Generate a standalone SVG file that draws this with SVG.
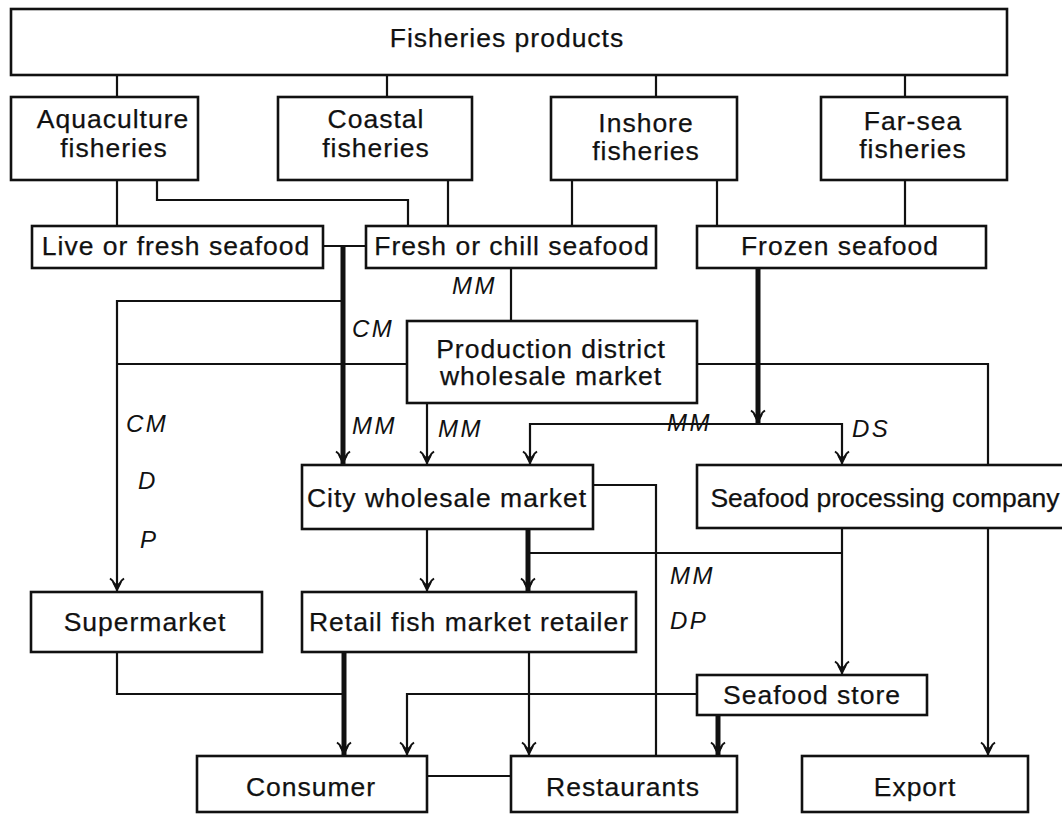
<svg xmlns="http://www.w3.org/2000/svg" width="1062" height="816" viewBox="0 0 1062 816">
<style>
  .box { fill: #fff; stroke: #111; stroke-width: 2.6; }
  .t { font-family: "Liberation Sans", Arial, sans-serif; font-size: 26.5px; letter-spacing: 1px; fill: #111; text-anchor: middle; stroke: #111; stroke-width: 0.25px; }
  .lab { font-family: "Liberation Sans", Arial, sans-serif; font-size: 24px; font-style: italic; letter-spacing: 2.5px; fill: #111; }
  .ln { fill: none; stroke: #111; stroke-width: 2.2; }
  .thick { fill: none; stroke: #111; stroke-width: 5; }
  .arr { marker-end: url(#arr); }
</style>
<defs>
  <marker id="arr" viewBox="-15 -9 17 18" refX="0" refY="0" markerWidth="17" markerHeight="18" markerUnits="userSpaceOnUse" orient="auto">
    <path d="M0,0 L-10,-5 L-8,0 L-10,5 Z" fill="#111"/>
    <path d="M-4,0 L-9,-3 Q-11.5,-4 -13.5,-7 M-4,0 L-9,3 Q-11.5,4 -13.5,7" fill="none" stroke="#111" stroke-width="2"/>
  </marker>
</defs>
<rect width="1062" height="816" fill="#fff"/>

<g id="connectors">
  <path class="ln" d="M117,75 V97 M387,75 V97 M656,75 V97 M905,75 V97"/>
  <path class="ln" d="M117,180 V226"/>
  <path class="ln" d="M157,180 V200 H408 V226"/>
  <path class="ln" d="M448,180 V226"/>
  <path class="ln" d="M572,180 V226"/>
  <path class="ln" d="M717,180 V226"/>
  <path class="ln" d="M905,180 V226"/>
  <path class="ln" d="M323,246 H366"/>
  <path class="thick arr" d="M343,246 V465"/>
  <path class="ln arr" d="M343,301 H117 V592"/>
  <path class="ln" d="M407,364 H117"/>
  <path class="ln" d="M511,268 V321"/>
  <path class="ln arr" d="M427,403 V465"/>
  <path class="ln" d="M697,364 H988 V465"/>
  <path class="thick arr" d="M758,268 V424"/>
  <path class="ln arr" d="M758,424 H530 V465"/>
  <path class="ln arr" d="M758,424 H842 V465"/>
  <path class="ln" d="M593,485 H656 V756"/>
  <path class="ln arr" d="M427,529 V592"/>
  <path class="thick arr" d="M528,529 V592"/>
  <path class="ln" d="M842,553 H528"/>
  <path class="ln arr" d="M842,528 V675"/>
  <path class="ln arr" d="M988,528 V756"/>
  <path class="ln" d="M117,652 V694 H344"/>
  <path class="thick arr" d="M344,652 V756"/>
  <path class="ln arr" d="M529,652 V756"/>
  <path class="ln arr" d="M697,694 H407 V756"/>
  <path class="thick arr" d="M718,715 V756"/>
  <path class="ln" d="M427,776 H511"/>
</g>

<g id="labels">
  <text class="lab" x="452" y="294">MM</text>
  <text class="lab" x="352" y="337">CM</text>
  <text class="lab" x="126" y="432">CM</text>
  <text class="lab" x="138" y="489">D</text>
  <text class="lab" x="140" y="548">P</text>
  <text class="lab" x="352" y="434">MM</text>
  <text class="lab" x="438" y="437">MM</text>
  <text class="lab" x="667" y="431">MM</text>
  <text class="lab" x="852" y="437">DS</text>
  <text class="lab" x="670" y="584">MM</text>
  <text class="lab" x="670" y="629">DP</text>
</g>

<g id="fisheries-products"><rect class="box" x="11" y="9" width="996" height="66"/><text class="t" x="507" y="47">Fisheries products</text></g>
<g id="aquaculture"><rect class="box" x="11" y="97" width="187" height="83"/><text class="t" x="113" y="128">Aquaculture</text><text class="t" x="114" y="157">fisheries</text></g>
<g id="coastal"><rect class="box" x="278" y="97" width="194" height="83"/><text class="t" x="376" y="128">Coastal</text><text class="t" x="376" y="157">fisheries</text></g>
<g id="inshore"><rect class="box" x="551" y="97" width="186" height="83"/><text class="t" x="646" y="132">Inshore</text><text class="t" x="646" y="160">fisheries</text></g>
<g id="far-sea"><rect class="box" x="821" y="97" width="186" height="83"/><text class="t" x="913" y="130">Far-sea</text><text class="t" x="913" y="158">fisheries</text></g>
<g id="live-fresh"><rect class="box" x="32" y="226" width="291" height="42"/><text class="t" x="176" y="255">Live or fresh seafood</text></g>
<g id="fresh-chill"><rect class="box" x="366" y="226" width="290" height="42"/><text class="t" x="512" y="255">Fresh or chill seafood</text></g>
<g id="frozen"><rect class="box" x="697" y="226" width="289" height="42"/><text class="t" x="840" y="255">Frozen seafood</text></g>
<g id="production-district"><rect class="box" x="407" y="321" width="290" height="82"/><text class="t" x="551" y="358">Production district</text><text class="t" x="551" y="385">wholesale market</text></g>
<g id="city-wholesale"><rect class="box" x="302" y="465" width="291" height="64"/><text class="t" x="447" y="507">City wholesale market</text></g>
<g id="processing"><rect class="box" x="697" y="465" width="380" height="63"/><text class="t" x="885" y="507" style="letter-spacing:0px">Seafood processing company</text></g>
<g id="supermarket"><rect class="box" x="31" y="592" width="231" height="60"/><text class="t" x="145" y="631">Supermarket</text></g>
<g id="retail"><rect class="box" x="302" y="592" width="334" height="60"/><text class="t" x="469" y="631">Retail fish market retailer</text></g>
<g id="seafood-store"><rect class="box" x="697" y="675" width="230" height="40"/><text class="t" x="812" y="704">Seafood store</text></g>
<g id="consumer"><rect class="box" x="197" y="756" width="230" height="56"/><text class="t" x="311" y="796">Consumer</text></g>
<g id="restaurants"><rect class="box" x="511" y="756" width="226" height="56"/><text class="t" x="623" y="796">Restaurants</text></g>
<g id="export"><rect class="box" x="802" y="756" width="226" height="56"/><text class="t" x="915" y="796">Export</text></g>
</svg>
